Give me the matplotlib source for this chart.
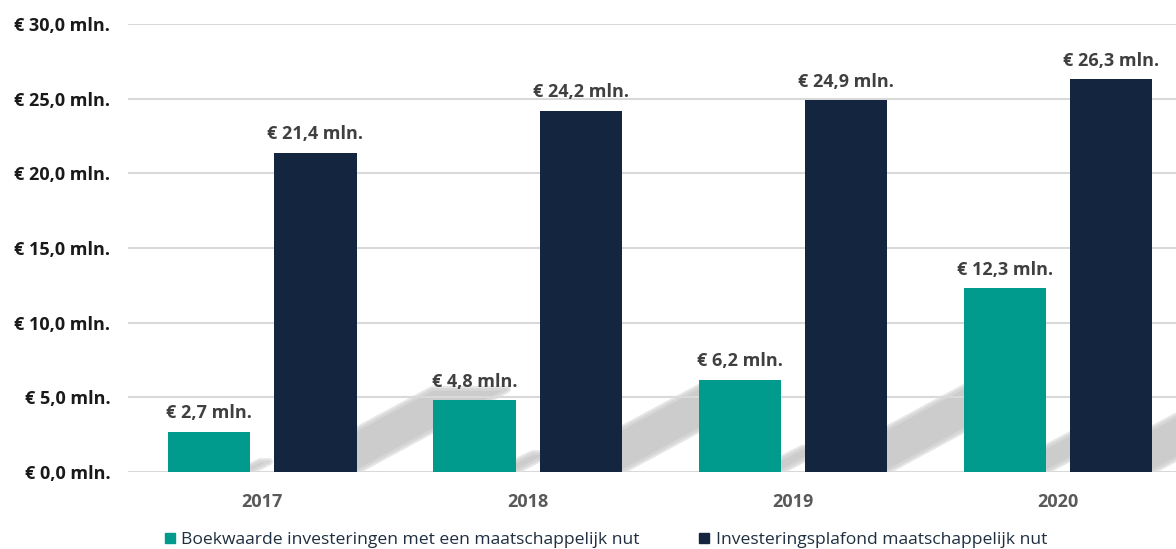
import numpy as np
import matplotlib.pyplot as plt
from matplotlib.patches import Polygon
from matplotlib.lines import Line2D

# data
years = ['2017', '2018', '2019', '2020']
boekwaarde = [2.7, 4.8, 6.2, 12.3]
plafond = [21.4, 24.2, 24.9, 26.3]
series_names = ['Boekwaarde investeringen met een maatschappelijk nut',
                'Investeringsplafond maatschappelijk nut']

teal = '#009B8C'
navy = '#13253F'

plt.rcParams['font.family'] = ['Open Sans', 'DejaVu Sans']

fig = plt.figure(figsize=(11.76, 5.49), dpi=100)
ax = fig.add_axes([0.109, 0.140, 0.891, 0.816])

x = np.arange(len(years))
width = 0.31
offset = 0.2

ax.set_ylim(0, 30)
ax.set_xlim(-0.506, 3.445)


def fmt(v):
    return f'€ {v:.1f}'.replace('.', ',') + ' mln.'


def add_shadows(xs, vals):
    # soft diagonal shadow strip behind each bar (offsets in pixels)
    to_px = ax.transData
    to_data = ax.transData.inverted()
    for xc, v in zip(xs, vals):
        s = min(v / 22.0, 1.0)
        x0, y0 = to_px.transform((xc + width / 2, 0))
        pts_px = [(x0 - 2, y0),
                  (x0 + 155 * s, y0 + 85 * s),
                  (x0 + 78 * s, y0 + 85 * s),
                  (x0 - 2, y0 + 42 * s)]
        pts = to_data.transform(pts_px)
        ax.add_patch(Polygon(pts, closed=True, facecolor='none', edgecolor='#e6e6e6',
                             linewidth=5, joinstyle='round', zorder=0.4))
        ax.add_patch(Polygon(pts, closed=True, facecolor='#cccccc', edgecolor='#d6d6d6',
                             linewidth=2, joinstyle='round', zorder=0.5))


add_shadows(x - offset, boekwaarde)
add_shadows(x + offset, plafond)

b1 = ax.bar(x - offset, boekwaarde, width, color=teal, zorder=2)
b2 = ax.bar(x + offset, plafond, width, color=navy, zorder=2)

for bars, vals in ((b1, boekwaarde), (b2, plafond)):
    for rect, v in zip(bars, vals):
        ax.annotate(fmt(v), (rect.get_x() + rect.get_width() / 2, v),
                    xytext=(0, 7), textcoords='offset points',
                    ha='center', va='bottom', fontsize=13, fontweight='bold',
                    color='#404040')

ax.set_yticks(np.arange(0, 31, 5))
ax.set_yticklabels([fmt(t) for t in np.arange(0, 31, 5)],
                   fontsize=13, fontweight='bold', color='#1a1a1a')
ax.set_xticks(x)
ax.set_xticklabels(years, fontsize=13, fontweight='bold', color='#595959')
ax.tick_params(axis='both', length=0)
ax.tick_params(axis='y', pad=13)
ax.tick_params(axis='x', pad=15)
for s in ax.spines.values():
    s.set_visible(False)
ax.yaxis.grid(True, color='#d9d9d9', linewidth=1.5)
for gl in ax.get_ygridlines():
    gl.set_zorder(1)

handles = [Line2D([], [], marker='s', linestyle='none', markersize=7.5, color=teal),
           Line2D([], [], marker='s', linestyle='none', markersize=7.5, color=navy)]
fig.legend(handles, series_names, loc='center', bbox_to_anchor=(0.515, 0.017),
           ncol=2, frameon=False, fontsize=12.6, handlelength=0.6, handletextpad=0.35,
           columnspacing=3.4, labelcolor='#1f2f40')

fig.savefig('out.png', dpi=100)
